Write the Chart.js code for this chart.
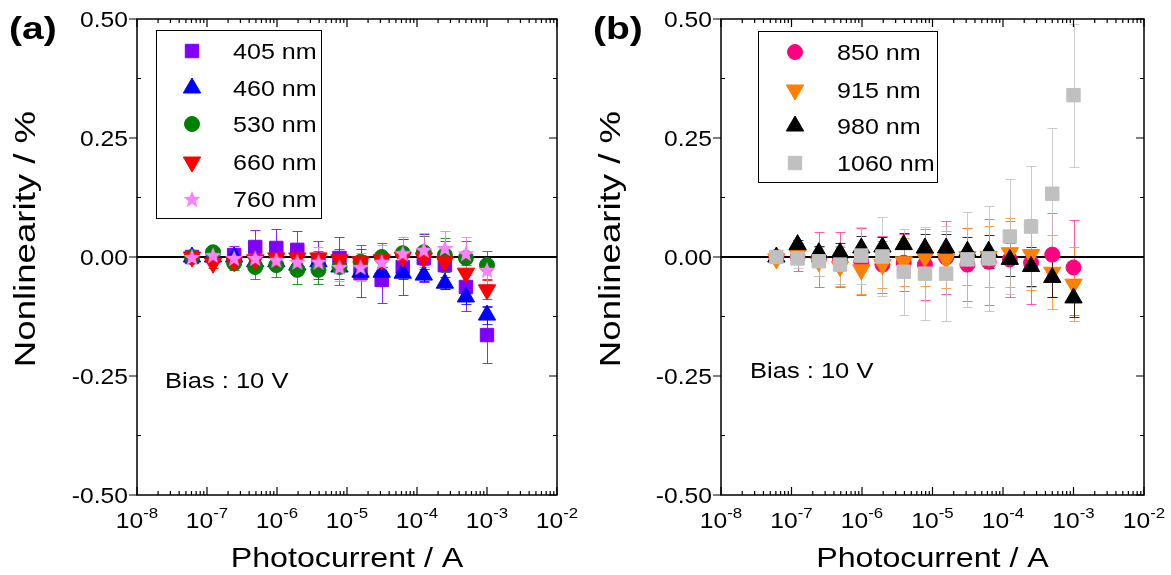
<!DOCTYPE html>
<html>
<head>
<meta charset="utf-8">
<script src="https://cdn.jsdelivr.net/npm/chart.js@4.4.1/dist/chart.umd.min.js"></script>
<style>
  html, body { margin: 0; padding: 0; background: #fff; }
  #wrap { position: relative; width: 1171px; height: 575px; }
  #chartA { position: absolute; left: 0; top: 0; }
  #chartB { position: absolute; left: 585px; top: 0; }
</style>
</head>
<body>
<div id="wrap">
  <canvas id="chartA" width="585" height="575"></canvas>
  <canvas id="chartB" width="586" height="575"></canvas>
</div>
<script>
// photocurrent steps (A), same for every series
const photocurrent = [6.1e-8, 1.22e-7, 2.44e-7, 4.88e-7, 9.77e-7, 1.95e-6, 3.91e-6, 7.81e-6,
                      1.56e-5, 3.13e-5, 6.25e-5, 1.25e-4, 2.5e-4, 5e-4, 1e-3];

// panel (a) - nonlinearity (%) and error
const nl405  = [0, 0.002, 0.004, 0.021, 0.019, 0.015, -0.006, -0.002, -0.034, -0.048, -0.021, -0.002, -0.017, -0.063, -0.164];
const err405 = [0.01, 0.015, 0.02, 0.036, 0.04, 0.04, 0.04, 0.044, 0.05, 0.048, 0.059, 0.05, 0.05, 0.05, 0.059];
const nl460  = [0, 0, 0, -0.01, -0.01, -0.017, -0.01, -0.021, -0.032, -0.032, -0.034, -0.038, -0.055, -0.084, -0.122];
const err460 = [0.005, 0.008, 0.008, 0.01, 0.01, 0.01, 0.01, 0.012, 0.012, 0.012, 0.012, 0.012, 0.012, 0.015, 0.019];
const nl530  = [0, 0.01, -0.013, -0.021, -0.017, -0.027, -0.027, -0.021, -0.01, 0, 0.008, 0.01, 0.004, -0.002, -0.017];
const err530 = [0.005, 0.01, 0.015, 0.025, 0.025, 0.03, 0.03, 0.038, 0.035, 0.03, 0.03, 0.035, 0.035, 0.035, 0.03];
const nl660  = [0, -0.013, -0.01, -0.006, -0.002, -0.002, -0.002, -0.006, -0.01, -0.006, 0, -0.002, -0.01, -0.034, -0.069];
const err660 = [0.005, 0.01, 0.01, 0.012, 0.012, 0.012, 0.015, 0.015, 0.015, 0.015, 0.015, 0.015, 0.015, 0.018, 0.02];
const nl760  = [0, 0.004, -0.002, -0.002, -0.006, -0.01, -0.01, -0.021, -0.021, -0.01, 0.008, 0.015, 0.019, 0.008, -0.027];
const err760 = [0.005, 0.01, 0.015, 0.02, 0.02, 0.025, 0.03, 0.03, 0.03, 0.035, 0.035, 0.036, 0.036, 0.035, 0.03];

// panel (b)
const nl850   = [0, 0, -0.005, -0.005, -0.01, -0.016, -0.012, -0.016, -0.001, -0.016, -0.01, -0.005, -0.012, 0.005, -0.022];
const err850  = [0.005, 0.03, 0.057, 0.057, 0.07, 0.06, 0.06, 0.075, 0.077, 0.077, 0.09, 0.08, 0.086, 0.088, 0.1];
const nl915   = [-0.004, 0.005, -0.01, -0.02, -0.027, -0.016, -0.01, -0.001, -0.005, 0.001, 0.001, 0.009, 0.005, -0.032, -0.057];
const err915  = [0.005, 0.02, 0.03, 0.04, 0.05, 0.05, 0.05, 0.06, 0.06, 0.06, 0.065, 0.072, 0.074, 0.078, 0.077];
const nl980   = [0, 0.026, 0.009, 0.009, 0.019, 0.021, 0.026, 0.019, 0.019, 0.012, 0.012, -0.005, -0.02, -0.043, -0.086];
const err980  = [0.005, 0.01, 0.015, 0.02, 0.025, 0.02, 0.025, 0.03, 0.03, 0.03, 0.035, 0.035, 0.04, 0.04, 0.04];
const nl1060  = [0, -0.003, -0.009, -0.016, 0.003, 0.001, -0.031, -0.035, -0.035, -0.005, -0.003, 0.043, 0.064, 0.133, 0.34];
const err1060 = [0.005, 0.02, 0.03, 0.04, 0.06, 0.082, 0.09, 0.097, 0.1, 0.1, 0.11, 0.12, 0.128, 0.139, 0.15];

const yTicks = [-0.5, -0.25, 0, 0.25, 0.5];
const xTickExps = [-8, -7, -6, -5, -4, -3, -2];

const FONT = '"Liberation Sans", Arial, sans-serif';

// text drawn a bit wider than the font, like the original figure
function txt(ctx, s, x, y, size, align, sx, bold) {
  ctx.save();
  ctx.font = (bold ? 'bold ' : '') + size + 'px ' + FONT;
  ctx.textBaseline = 'alphabetic';
  ctx.textAlign = 'left';
  const w = ctx.measureText(s).width * sx;
  const x0 = align === 'center' ? x - w / 2 : align === 'right' ? x - w : x;
  ctx.translate(x0, y);
  ctx.scale(sx, 1);
  ctx.fillStyle = '#000';
  ctx.fillText(s, 0, 0);
  ctx.restore();
  return w;
}
function txtWidth(ctx, s, size, sx) {
  ctx.save();
  ctx.font = size + 'px ' + FONT;
  const w = ctx.measureText(s).width * sx;
  ctx.restore();
  return w;
}

function starImage(color, R) {
  const c = document.createElement('canvas');
  const s = Math.ceil(2 * R + 2);
  c.width = s; c.height = s;
  const g = c.getContext('2d');
  g.fillStyle = color;
  g.beginPath();
  for (let k = 0; k < 10; k++) {
    const r = k % 2 ? R * 0.42 : R;
    const a = -Math.PI / 2 + k * Math.PI / 5;
    g.lineTo(s / 2 + r * Math.cos(a), s / 2 + R * 0.1 + r * Math.sin(a));
  }
  g.closePath();
  g.fill();
  return c;
}
const star = starImage('#ff80ff', 9);

function series(label, vals, errs, color, errColor, style, radius, rotation, order) {
  return {
    label: label,
    data: photocurrent.map((x, i) => ({ x: x, y: vals[i] })),
    errors: errs,
    errColor: errColor,
    backgroundColor: color,
    borderColor: color,
    borderWidth: 1,
    pointStyle: style,
    pointRadius: radius,
    pointHoverRadius: radius,
    pointRotation: rotation,
    showLine: false,
    order: order
  };
}

const decor = {
  id: 'decor',
  beforeDatasetsDraw(chart, args, o) {
    const ctx = chart.ctx;
    const ys = chart.scales.y;
    const a = chart.chartArea;
    ctx.save();
    // error bars
    chart.data.datasets.forEach((ds, i) => {
      const meta = chart.getDatasetMeta(i);
      ctx.strokeStyle = ds.errColor;
      ctx.lineWidth = 1;
      meta.data.forEach((pt, j) => {
        const v = ds.data[j].y, e = ds.errors[j];
        const x = Math.round(pt.x) + 0.5;
        const yt = Math.round(ys.getPixelForValue(v + e)) + 0.5;
        const yb = Math.round(ys.getPixelForValue(v - e)) + 0.5;
        ctx.beginPath();
        ctx.moveTo(x, yt); ctx.lineTo(x, yb);
        ctx.moveTo(x - 5, yt); ctx.lineTo(x + 5, yt);
        ctx.moveTo(x - 5, yb); ctx.lineTo(x + 5, yb);
        ctx.stroke();
      });
    });
    // zero line
    const y0 = ys.getPixelForValue(0);
    ctx.strokeStyle = '#000';
    ctx.lineWidth = 2;
    ctx.beginPath();
    ctx.moveTo(a.left, y0); ctx.lineTo(a.right, y0);
    ctx.stroke();
    ctx.restore();
  },
  afterDatasetsDraw(chart, args, o) {
    const ctx = chart.ctx;
    const xs = chart.scales.x, ys = chart.scales.y;
    const a = chart.chartArea;
    ctx.save();
    ctx.strokeStyle = '#000';
    ctx.lineWidth = 1.5;
    ctx.strokeRect(a.left, a.top, a.right - a.left, a.bottom - a.top);

    // x ticks (inward, bottom and top)
    ctx.lineWidth = 1.2;
    ctx.beginPath();
    xTickExps.forEach((p, k) => {
      const xm = xs.getPixelForValue(Math.pow(10, p));
      ctx.moveTo(xm, a.bottom); ctx.lineTo(xm, a.bottom - 8);
      ctx.moveTo(xm, a.top); ctx.lineTo(xm, a.top + 8);
      if (k < xTickExps.length - 1) {
        for (let m = 2; m <= 9; m++) {
          const xn = xs.getPixelForValue(m * Math.pow(10, p));
          ctx.moveTo(xn, a.bottom); ctx.lineTo(xn, a.bottom - 4);
          ctx.moveTo(xn, a.top); ctx.lineTo(xn, a.top + 4);
        }
      }
    });
    // y ticks: majors out on the left, minors in; right side inward
    yTicks.forEach((v, k) => {
      const y = ys.getPixelForValue(v);
      ctx.moveTo(a.left, y); ctx.lineTo(a.left - 8, y);
      ctx.moveTo(a.right, y); ctx.lineTo(a.right - 8, y);
      if (k < yTicks.length - 1) {
        const ym = ys.getPixelForValue(v + 0.125);
        ctx.moveTo(a.left, ym); ctx.lineTo(a.left + 4, ym);
        ctx.moveTo(a.right, ym); ctx.lineTo(a.right - 4, ym);
      }
    });
    ctx.stroke();

    // y tick labels
    yTicks.forEach(v => {
      const y = ys.getPixelForValue(v);
      txt(ctx, v.toFixed(2), a.left - 9, y + 8, 22, 'right', 1.12);
    });
    // x tick labels 10^p
    xTickExps.forEach(p => {
      const xm = xs.getPixelForValue(Math.pow(10, p));
      const e = String(p);
      const w1 = txtWidth(ctx, '10', 22, 1.12), w2 = txtWidth(ctx, e, 15, 1.12);
      const x0 = xm - (w1 + w2) / 2;
      txt(ctx, '10', x0, a.bottom + 33, 22, 'left', 1.12);
      txt(ctx, e, x0 + w1, a.bottom + 23, 15, 'left', 1.12);
    });
    // axis titles
    txt(ctx, 'Photocurrent / A', (a.left + a.right) / 2, 567, 28, 'center', 1.15);
    ctx.save();
    ctx.translate(o.yTitleX, o.yTitleY);
    ctx.rotate(-Math.PI / 2);
    txt(ctx, 'Nonlinearity / %', 0, 0, 30, 'center', 1.22);
    ctx.restore();

    // panel label and bias note
    txt(ctx, o.panel, o.panelX, 39, 32, 'left', 1.22, true);
    txt(ctx, 'Bias : 10 V', o.biasX, o.biasY, 22, 'left', 1.16);

    // legend box
    const L = o.legend;
    ctx.fillStyle = '#fff';
    ctx.fillRect(L.box[0], L.box[1], L.box[2] - L.box[0], L.box[3] - L.box[1]);
    ctx.strokeStyle = '#000';
    ctx.lineWidth = 1;
    ctx.strokeRect(L.box[0] + 0.5, L.box[1] + 0.5, L.box[2] - L.box[0], L.box[3] - L.box[1]);
    L.order.forEach((di, r) => {
      const ds = chart.data.datasets[di];
      const y = L.rows[r];
      ctx.fillStyle = ds.backgroundColor;
      ctx.strokeStyle = ds.borderColor;
      ctx.lineWidth = 1;
      Chart.helpers.drawPoint(ctx, {
        pointStyle: ds.pointStyle, radius: ds.pointRadius,
        rotation: ds.pointRotation, borderWidth: 1
      }, L.markX, y);
      txt(ctx, ds.label, L.textX, y + 8, 22, 'left', 1.14);
    });
    ctx.restore();
  }
};

function makeChart(id, datasets, yWidth, rightPad, decorOpts) {
  return new Chart(document.getElementById(id), {
    type: 'scatter',
    data: { datasets: datasets },
    options: {
      responsive: false,
      animation: false,
      layout: { padding: { top: 19, right: rightPad, left: 0, bottom: 0 } },
      plugins: { legend: { display: false }, tooltip: { enabled: false }, decor: decorOpts },
      scales: {
        x: {
          type: 'logarithmic', min: 1e-8, max: 1e-2,
          ticks: { display: false }, grid: { display: false }, border: { display: false },
          afterFit: s => { s.height = 80; }
        },
        y: {
          type: 'linear', min: -0.5, max: 0.5,
          ticks: { display: false }, grid: { display: false }, border: { display: false },
          afterFit: s => { s.width = yWidth; }
        }
      }
    },
    plugins: [decor]
  });
}

// draw order bottom -> top follows dataset list (higher order drawn first)
makeChart('chartA', [
  series('405 nm', nl405, err405, '#8000ff', 'rgba(128,0,255,0.85)', 'rect', 9.5, 0, 4),
  series('460 nm', nl460, err460, '#0000ff', 'rgba(0,0,255,0.8)', 'triangle', 10, 0, 3),
  series('530 nm', nl530, err530, '#008000', 'rgba(0,128,0,0.8)', 'circle', 7.5, 0, 2),
  series('660 nm', nl660, err660, '#ff0000', 'rgba(255,0,0,0.8)', 'triangle', 10, 180, 1),
  series('760 nm', nl760, err760, '#ff80ff', 'rgba(240,120,240,0.85)', star, 9, 0, 0)
], 137, 28, {
  panel: '(a)', panelX: 9, biasX: 165, biasY: 388, yTitleX: 35, yTitleY: 239,
  legend: { box: [156, 30, 321, 218], markX: 192, textX: 233, rows: [51, 88, 124, 162, 199], order: [0, 1, 2, 3, 4] }
});

makeChart('chartB', [
  series('850 nm', nl850, err850, '#ff0080', 'rgba(255,40,140,0.75)', 'circle', 7.5, 0, 3),
  series('915 nm', nl915, err915, '#ff8000', 'rgba(255,140,20,0.8)', 'triangle', 10, 180, 2),
  series('980 nm', nl980, err980, '#000000', 'rgba(0,0,0,0.8)', 'triangle', 10, 0, 1),
  series('1060 nm', nl1060, err1060, '#c0c0c0', 'rgba(190,190,190,0.8)', 'rect', 9.5, 0, 0)
], 136, 27, {
  panel: '(b)', panelX: 8, biasX: 165, biasY: 378, yTitleX: 35, yTitleY: 239,
  legend: { box: [173, 31, 352, 182], markX: 210, textX: 252, rows: [52, 90, 126, 163], order: [0, 1, 2, 3] }
});
</script>
</body>
</html>
